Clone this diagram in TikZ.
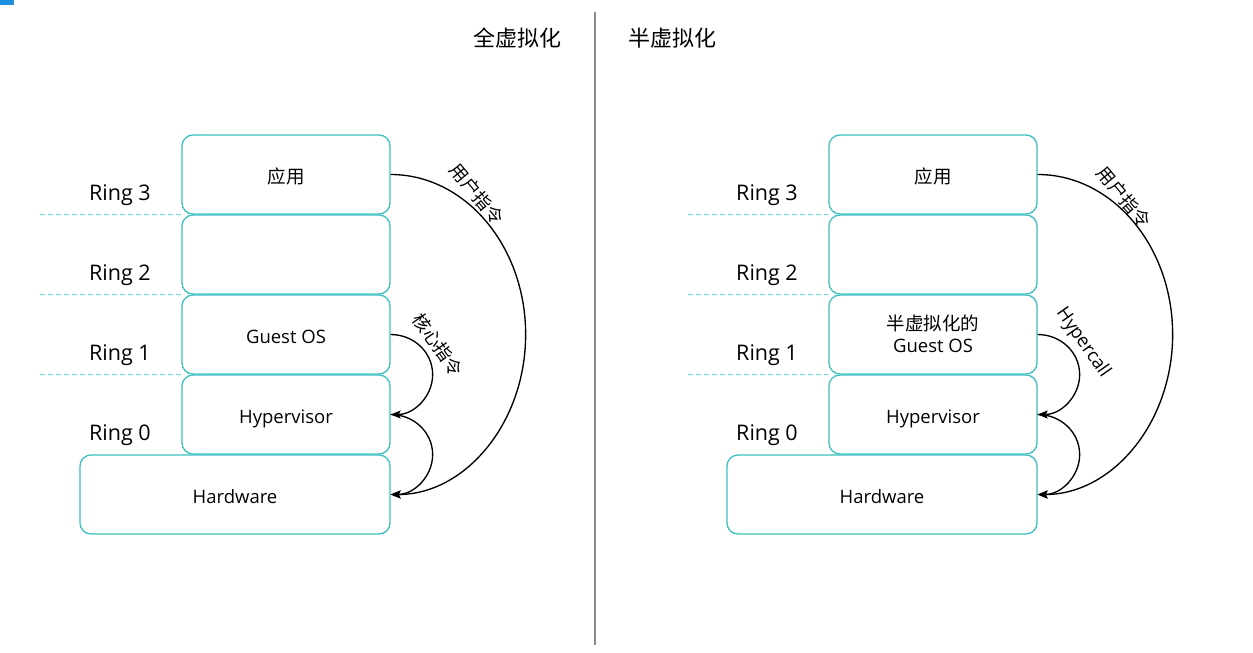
\documentclass[tikz,border=0pt]{standalone}
\usepackage{fontspec}
\setmainfont{Open Sans}
\newfontfamily\cjk{Noto Sans CJK SC}
\usetikzlibrary{arrows.meta}
\definecolor{tealbox}{HTML}{3CC0BE}
\definecolor{tealdash}{HTML}{7ED4D4}
\definecolor{divgray}{HTML}{8A8A8A}
\definecolor{markblue}{HTML}{1E8FE0}
\begin{document}
\begin{tikzpicture}[x=1pt,y=-1pt,
  layerbox/.style={draw=tealbox,line width=1.3pt,rounded corners=11pt,minimum height=79pt,inner sep=0pt,align=center,text height=18pt,text depth=0pt,font=\fontsize{18.5}{22}\selectfont},
  ringlbl/.style={font=\fontsize{21.5}{24}\selectfont,inner sep=0pt},
  ringline/.style={draw=tealdash,line width=1pt,dash pattern=on 5pt off 3pt},
  title/.style={font=\cjk\fontsize{22}{24}\selectfont,inner sep=0pt},
  arclbl/.style={font=\cjk\fontsize{18}{20}\selectfont,inner sep=0pt},
  callarrow/.style={draw=black,line width=1.35pt,-{Stealth[length=10pt,width=8pt,inset=2pt]}}
]
\useasboundingbox (0,0) rectangle (1253,653);
\fill[markblue] (0,0) rectangle (14,5);
% divider
\coordinate (dtop) at (595,12);
\coordinate (dbot) at (595,645);
\draw[divgray,line width=1.2pt] (dtop) -- (dbot);
\node[title] (tL) at (517,38) {全虚拟化};
\node[title] (tR) at (672,38) {半虚拟化};

% ---------- left ----------
\node[layerbox,minimum width=208pt] (appL) at (286,174.5) {\cjk 应用};
\node[layerbox,minimum width=208pt] (r2L) at (286,254.5) {};
\node[layerbox,minimum width=208pt] (gosL) at (286,334.5) {Guest OS};
\node[layerbox,minimum width=208pt] (hypL) at (286,414.5) {Hypervisor};
\node[layerbox,minimum width=310pt] (hwL) at (235,494.5) {Hardware};
\node[ringlbl] (r3tL) at (120,195) {Ring 3};
\node[ringlbl] (r2tL) at (120,275) {Ring 2};
\node[ringlbl] (r1tL) at (120,355) {Ring 1};
\node[ringlbl] (r0tL) at (120,435) {Ring 0};
\coordinate (d1L) at (40,214.5);
\coordinate (d2L) at (40,294.5);
\coordinate (d3L) at (40,374.5);
\draw[ringline] (d1L) -- (appL.south west);
\draw[ringline] (d2L) -- (r2L.south west);
\draw[ringline] (d3L) -- (gosL.south west);
\draw[callarrow] (appL.east) arc[start angle=-90,end angle=90,x radius=135,y radius=160];
\draw[callarrow] (gosL.east) arc[start angle=-90,end angle=90,x radius=42,y radius=40];
\draw[callarrow] (hypL.east) arc[start angle=-90,end angle=90,x radius=42,y radius=40];
\node[arclbl,rotate=-50] (uL) at (477,194) {用户指令};
\node[arclbl,rotate=-55] (kL) at (438,345) {核心指令};

% ---------- right ----------
\node[layerbox,minimum width=208pt] (appR) at (933,174.5) {\cjk 应用};
\node[layerbox,minimum width=208pt] (r2R) at (933,254.5) {};
\node[layerbox,minimum width=208pt,text height=0pt,text depth=0pt] (gosR) at (933,334.5) {\raisebox{-7pt}[0pt][0pt]{\begin{tabular}{@{}c@{}}{\cjk 半虚拟化的}\\Guest OS\end{tabular}}};
\node[layerbox,minimum width=208pt] (hypR) at (933,414.5) {Hypervisor};
\node[layerbox,minimum width=310pt] (hwR) at (882,494.5) {Hardware};
\node[ringlbl] (r3tR) at (767,195) {Ring 3};
\node[ringlbl] (r2tR) at (767,275) {Ring 2};
\node[ringlbl] (r1tR) at (767,355) {Ring 1};
\node[ringlbl] (r0tR) at (767,435) {Ring 0};
\coordinate (d1R) at (688,214.5);
\coordinate (d2R) at (688,294.5);
\coordinate (d3R) at (688,374.5);
\draw[ringline] (d1R) -- (appR.south west);
\draw[ringline] (d2R) -- (r2R.south west);
\draw[ringline] (d3R) -- (gosR.south west);
\draw[callarrow] (appR.east) arc[start angle=-90,end angle=90,x radius=135,y radius=160];
\draw[callarrow] (gosR.east) arc[start angle=-90,end angle=90,x radius=42,y radius=40];
\draw[callarrow] (hypR.east) arc[start angle=-90,end angle=90,x radius=42,y radius=40];
\node[arclbl,rotate=-50] (uR) at (1124,197) {用户指令};
\node[font=\fontsize{18.5}{20}\selectfont,inner sep=0pt,rotate=-55] (hcR) at (1083,343) {Hypercall};
\end{tikzpicture}
\end{document}
